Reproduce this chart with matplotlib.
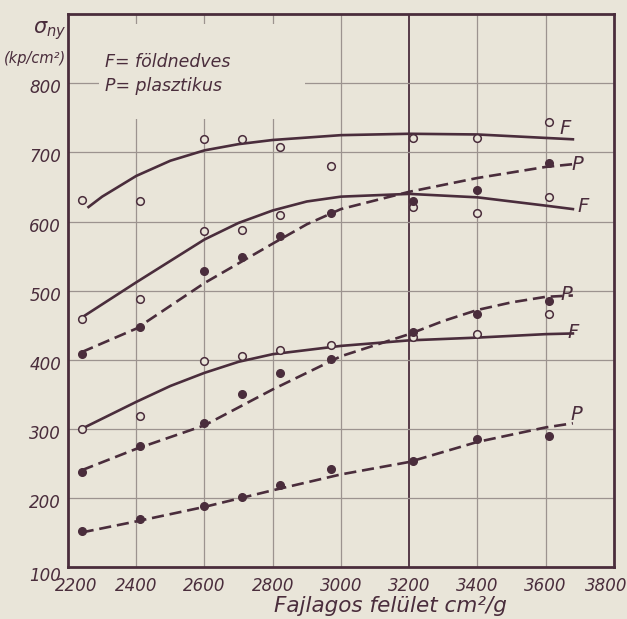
import numpy as np
import matplotlib.pyplot as plt
from matplotlib.patches import Rectangle
from matplotlib.transforms import ScaledTranslation

bg = '#e9e5d9'
ink = '#4a2d3c'
grid_c = '#9c938f'

plt.rcParams['font.family'] = ['DejaVu Sans']
plt.rcParams['font.style'] = 'italic'

# fajlagos felulet (cm2/g) of the measured samples
felulet = [2240, 2410, 2600, 2710, 2820, 2970, 3210, 3400, 3610]

# measured points: F = open circles, P = filled
f1_pts = [631, 630, 719, 720, 708, 680, 721, 721, 744]
f2_pts = [459, 488, 587, 588, 609, np.nan, 621, 613, 635]
f3_pts = [300, 319, 398, 406, 414, 421, 433, 437, 466]
p1_pts = [408, 448, 529, 548, 579, 612, 629, 645, 685]
p2_pts = [238, 275, 309, 350, 381, 401, 440, 466, 485]
p3_pts = [152, 169, 189, 201, 219, 242, 254, 285, 289]

# drawn (fitted) curves
f1_cx = [2260, 2300, 2400, 2500, 2600, 2700, 2800, 3000, 3200, 3400, 3600, 3680]
f1_cy = [621, 636, 666, 688, 703, 712, 718, 725, 727, 726, 721, 719]
f2_cx = [2240, 2400, 2600, 2700, 2800, 2900, 3000, 3200, 3400, 3600, 3680]
f2_cy = [461, 512, 574, 598, 616, 629, 636, 640, 635, 623, 618]
f3_cx = [2240, 2400, 2500, 2600, 2700, 2800, 3000, 3200, 3400, 3600, 3680]
f3_cy = [300, 339, 362, 381, 397, 408, 420, 428, 432, 437, 438]
p1_cx = [2240, 2400, 2600, 2800, 2900, 3000, 3200, 3400, 3600, 3680]
p1_cy = [411, 445, 511, 568, 596, 618, 643, 663, 679, 683]
p2_cx = [2240, 2400, 2600, 2800, 3000, 3200, 3300, 3400, 3500, 3600, 3680]
p2_cy = [240, 271, 305, 357, 405, 437, 456, 472, 483, 491, 493]
p3_cx = [2240, 2400, 2600, 2800, 3000, 3200, 3400, 3600, 3680]
p3_cy = [150, 166, 187, 211, 234, 252, 281, 302, 308]

# end labels (x, y, letter)
end_labels = [(3640, 735, 'F'), (3677, 683, 'P'), (3692, 622, 'F'),
              (3645, 494, 'P'), (3665, 439, 'F'), (3674, 320, 'P')]

fig = plt.figure(figsize=(6.27, 6.19), dpi=100, facecolor=bg)
ax = fig.add_axes([0.1085, 0.084, 0.8705, 0.893])
ax.set_facecolor(bg)

ax.set_xlim(2200, 3800)
ax.set_ylim(100, 900)

for xv in range(2400, 3800, 200):
    if xv == 3200:
        ax.axvline(xv, color=ink, lw=1.3, zorder=1)
    else:
        ax.axvline(xv, color=grid_c, lw=0.9, zorder=1)
for yv in range(200, 900, 100):
    ax.axhline(yv, color=grid_c, lw=0.9, zorder=1)

# blank patch behind the key text (grid is not drawn there)
ax.add_patch(Rectangle((2290, 749), 605, 137, facecolor=bg, edgecolor='none', zorder=1.5))

lw = 1.9
dash = (4.6, 2.2)
ax.plot(f1_cx, f1_cy, color=ink, lw=lw, zorder=3)
ax.plot(f2_cx, f2_cy, color=ink, lw=lw, zorder=3)
ax.plot(f3_cx, f3_cy, color=ink, lw=lw, zorder=3)
ax.plot(p1_cx, p1_cy, color=ink, lw=lw, dashes=dash, zorder=3)
ax.plot(p2_cx, p2_cy, color=ink, lw=lw, dashes=dash, zorder=3)
ax.plot(p3_cx, p3_cy, color=ink, lw=lw, dashes=dash, zorder=3)

for pts in (f1_pts, f2_pts, f3_pts):
    ax.plot(felulet, pts, 'o', ms=5.5, mfc=bg, mec=ink, mew=1.1, zorder=4)
for pts in (p1_pts, p2_pts, p3_pts):
    ax.plot(felulet, pts, 'o', ms=5.5, mfc=ink, mec=ink, zorder=4)

for x, y, t in end_labels:
    ax.text(x, y, t, color=ink, fontsize=14, ha='left', va='center', zorder=5)

ax.set_xticks(range(2200, 4000, 200))
ax.set_yticks(range(100, 900, 100))
ax.tick_params(length=0, labelsize=12, labelcolor=ink)
ax.tick_params(axis='x', pad=7)
ax.tick_params(axis='y', pad=5)
# nudge the end x labels so they clear the "100" and the figure edge
xls = ax.get_xticklabels()
xls[0].set_transform(xls[0].get_transform() + ScaledTranslation(8 / 100, 0, fig.dpi_scale_trans))
xls[-1].set_transform(xls[-1].get_transform() + ScaledTranslation(-8 / 100, 0, fig.dpi_scale_trans))
for i, lab in enumerate(ax.get_yticklabels()):
    dy = -7 if i == 0 else -3
    lab.set_transform(lab.get_transform() + ScaledTranslation(0, dy / 100, fig.dpi_scale_trans))
for s in ax.spines.values():
    s.set_color(ink)
    s.set_linewidth(2.0)

ax.set_xlabel('Fajlagos felület cm²/g', color=ink, fontsize=15.5)
ax.xaxis.set_label_coords(0.59, -0.052)

fig.text(0.052, 0.950, r'$\sigma_{ny}$', color=ink, fontsize=15,
         ha='left', va='center')
fig.text(0.056, 0.905, '(kp/cm²)', color=ink, fontsize=10.5, ha='center',
         va='center')
ax.text(0.068, 0.93, 'F= földnedves\nP= plasztikus', transform=ax.transAxes,
        color=ink, fontsize=12.5, ha='left', va='top', linespacing=1.45,
        zorder=2)

fig.savefig('out.png', dpi=100, facecolor=bg)
